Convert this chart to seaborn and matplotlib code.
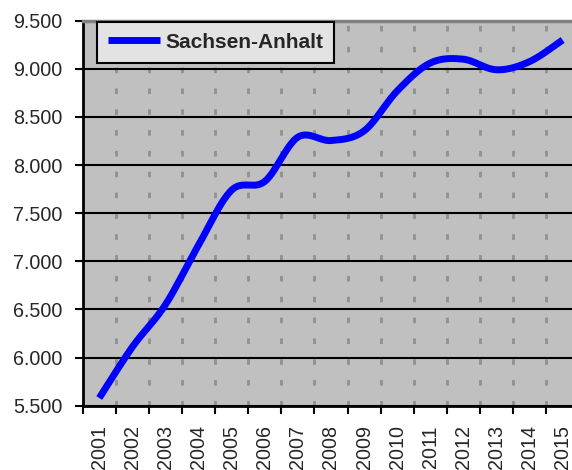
import numpy as np
import pandas as pd
import seaborn as sns
import matplotlib.pyplot as plt
from matplotlib.ticker import FixedLocator, FuncFormatter

# data
years = ['2001', '2002', '2003', '2004', '2005', '2006', '2007', '2008',
         '2009', '2010', '2011', '2012', '2013', '2014', '2015']
values = [5580, 6110, 6550, 7170, 7740, 7830, 8290, 8255,
          8355, 8770, 9060, 9100, 8990, 9075, 9300]
series_name = 'Sachsen-Anhalt'
y_ticks = [5500, 6000, 6500, 7000, 7500, 8000, 8500, 9000, 9500]

sns.set_style('ticks')
plt.rcParams['font.family'] = ['Liberation Sans', 'DejaVu Sans']


def smooth(x, y, n=25):
    # excel style smoothed line (bezier through the points)
    x = np.asarray(x, float)
    y = np.asarray(y, float)
    px = np.concatenate([[x[0]], x, [x[-1]]])
    py = np.concatenate([[y[0]], y, [y[-1]]])
    t = np.linspace(0, 1, n)
    xs, ys = [], []
    for i in range(1, len(px) - 2):
        x0, x3 = px[i], px[i + 1]
        y0, y3 = py[i], py[i + 1]
        x1 = x0 + (px[i + 1] - px[i - 1]) / 6
        y1 = y0 + (py[i + 1] - py[i - 1]) / 6
        x2 = x3 - (px[i + 2] - px[i]) / 6
        y2 = y3 - (py[i + 2] - py[i]) / 6
        b = [(1 - t) ** 3, 3 * (1 - t) ** 2 * t, 3 * (1 - t) * t ** 2, t ** 3]
        xs.append(b[0] * x0 + b[1] * x1 + b[2] * x2 + b[3] * x3)
        ys.append(b[0] * y0 + b[1] * y1 + b[2] * y2 + b[3] * y3)
    return np.concatenate(xs), np.concatenate(ys)


pos = np.arange(len(years))
sx, sy = smooth(pos, values)
df = pd.DataFrame({'x': sx, 'y': sy, 'series': series_name})

fig = plt.figure(figsize=(5.72, 4.70), dpi=100)
ax = fig.add_axes([82.7 / 572, 1 - 405.7 / 470, 496.5 / 572, 385 / 470])
ax.set_facecolor('#c0c0c0')

sns.lineplot(data=df, x='x', y='y', hue='series', palette=['#0000ff'],
             linewidth=5, sort=False, ax=ax, zorder=3,
             solid_capstyle='butt')

ax.set_xlim(-0.5, len(years) - 0.5)
ax.set_ylim(y_ticks[0], y_ticks[-1])
ax.set_xlabel('')
ax.set_ylabel('')

# y axis, german number format
ax.yaxis.set_major_locator(FixedLocator(y_ticks))
ax.yaxis.set_major_formatter(FuncFormatter(lambda v, p: f'{int(v):,}'.replace(',', '.')))
ax.tick_params(axis='y', which='major', length=6, width=1.5, color='black',
               labelsize=14.2, pad=8.5)
ax.yaxis.grid(True, color='black', linewidth=1.5)

# x axis: labels at category centres, ticks + dashed grid at boundaries
ax.set_xticks(pos)
ax.set_xticklabels(years, rotation=90)
ax.set_xticks(np.arange(len(years) + 1) - 0.5, minor=True)
ax.tick_params(axis='x', which='major', length=0, labelsize=14.2, pad=14)
ax.tick_params(axis='x', which='minor', length=6, width=1.5, color='black')
ax.xaxis.grid(True, which='minor', color='#909090', linewidth=2,
              linestyle=(0, (2, 5.5)))
ax.xaxis.grid(False, which='major')
ax.set_axisbelow(True)

for s in ['left', 'bottom']:
    ax.spines[s].set_color('black')
    ax.spines[s].set_linewidth(2)
ax.spines['top'].set_color('#808080')
ax.spines['top'].set_linewidth(2.5)
ax.spines['right'].set_visible(False)

leg = ax.legend(loc='upper left', bbox_to_anchor=(0.0288, 0.997),
                borderaxespad=0, frameon=True, fancybox=False,
                handlelength=2.5, handletextpad=0.25, borderpad=0.52,
                prop={'weight': 'bold', 'size': 15})
leg.get_frame().set_facecolor('#e3e3e3')
leg.get_frame().set_edgecolor('black')
leg.get_frame().set_linewidth(1.5)
leg.get_frame().set_alpha(1)
for line in leg.get_lines():
    line.set_linewidth(5)

fig.savefig('out.png', dpi=100)
